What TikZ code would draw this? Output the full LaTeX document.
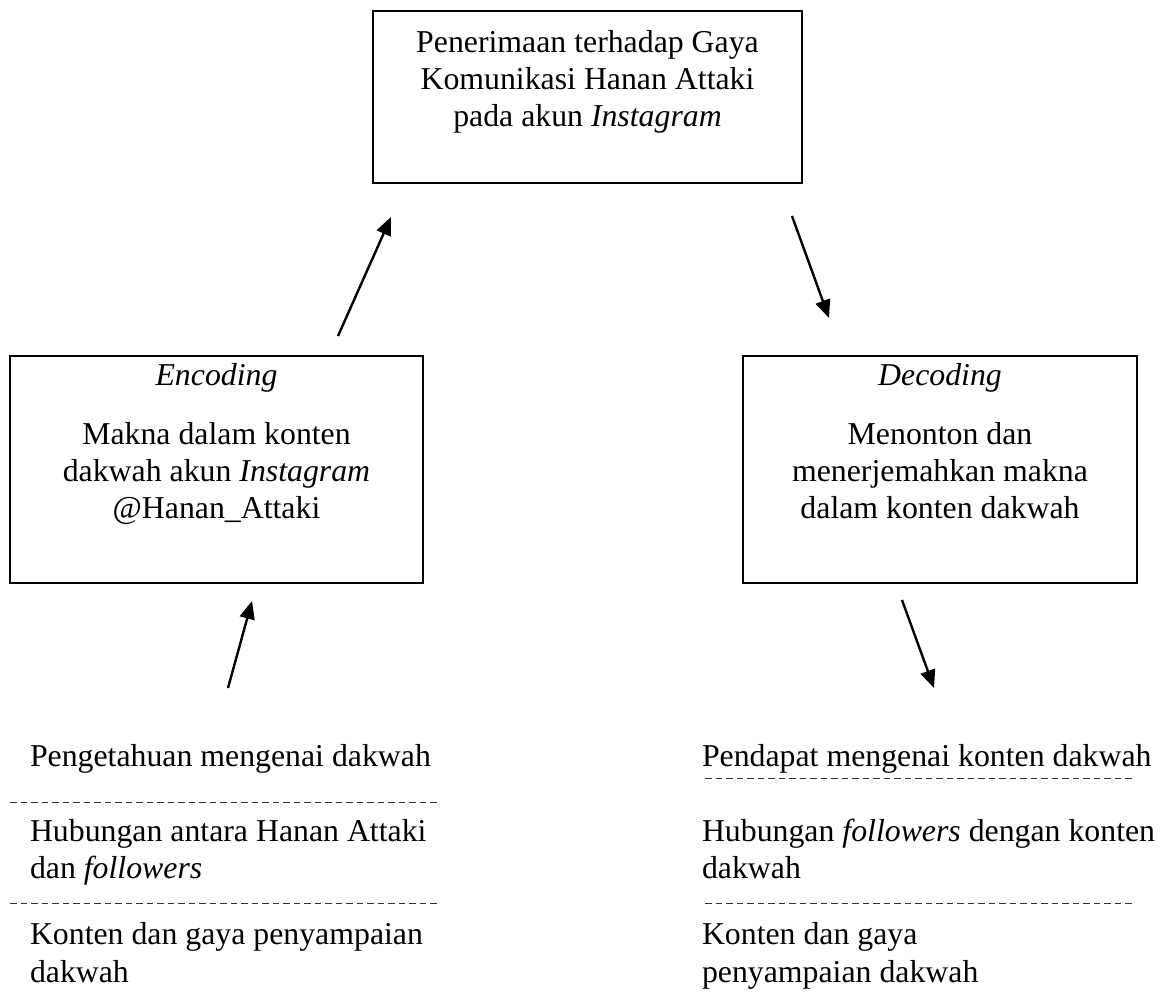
\documentclass[tikz,border=0pt]{standalone}
\usepackage{fontspec}
\setmainfont{Liberation Serif}
\usetikzlibrary{arrows.meta}
\begin{document}
\begin{tikzpicture}[x=1pt,y=-1pt,
  box/.style={draw, line width=2pt, inner sep=0pt, outer sep=0pt},
  txt/.style={font=\fontsize{31.8}{37}\selectfont, inner sep=0pt, outer sep=0pt},
  ctxt/.style={txt, anchor=base},
  ltxt/.style={txt, anchor=base west},
  arr/.style={line width=2.4pt, -{Triangle[length=18pt,width=15pt]}},
  sepline/.style={line width=0.9pt, black!80, dash pattern=on 6.5pt off 4pt}]
\useasboundingbox (0,0) rectangle (1165,993);
% boxes
\node[box, minimum width=429pt, minimum height=172pt] (top) at (587.5,97) {};
\node[box, minimum width=413pt, minimum height=227pt] (enc) at (216.5,469.5) {};
\node[box, minimum width=394pt, minimum height=227pt] (dec) at (940,469.5) {};
% top box text
\node[ctxt] (t1) at (587.5,52) {Penerimaan terhadap Gaya};
\node[ctxt] (t2) at (587.5,89) {Komunikasi Hanan Attaki};
\node[ctxt] (t3) at (587.5,126) {pada akun \textit{Instagram}};
% encoding box text
\node[ctxt] (e0) at (216.5,385) {\textit{Encoding}};
\node[ctxt] (e1) at (216.5,444) {Makna dalam konten};
\node[ctxt] (e2) at (216.5,481) {dakwah akun \textit{Instagram}};
\node[ctxt] (e3) at (216.5,518) {@Hanan\_Attaki};
% decoding box text
\node[ctxt] (d0) at (940,385) {\textit{Decoding}};
\node[ctxt] (d1) at (940,444) {Menonton dan};
\node[ctxt] (d2) at (940,481) {menerjemahkan makna};
\node[ctxt] (d3) at (940,518) {dalam konten dakwah};
% arrows
\coordinate (a1s) at (338,336); \coordinate (a1e) at (391,217);
\coordinate (a2s) at (792,216); \coordinate (a2e) at (829,318);
\coordinate (a3s) at (228,688); \coordinate (a3e) at (252,601);
\coordinate (a4s) at (902,600); \coordinate (a4e) at (934,688);
\draw[arr] (a1s) -- (a1e);
\draw[arr] (a2s) -- (a2e);
\draw[arr] (a3s) -- (a3e);
\draw[arr] (a4s) -- (a4e);
% bottom left list
\node[ltxt] (l1) at (30,766) {Pengetahuan mengenai dakwah};
\node[ltxt] (l2) at (30,841) {Hubungan antara Hanan Attaki};
\node[ltxt] (l3) at (30,878) {dan \textit{followers}};
\node[ltxt] (l4) at (30,944) {Konten dan gaya penyampaian};
\node[ltxt] (l5) at (30,982) {dakwah};
\coordinate (ls1a) at (10,802); \coordinate (ls1b) at (437,802);
\coordinate (ls2a) at (10,903); \coordinate (ls2b) at (437,903);
\draw[sepline] (ls1a) -- (ls1b);
\draw[sepline] (ls2a) -- (ls2b);
% bottom right list
\node[ltxt] (r1) at (702,766) {Pendapat mengenai konten dakwah};
\node[ltxt] (r2) at (702,841) {Hubungan \textit{followers} dengan konten};
\node[ltxt] (r3) at (702,878) {dakwah};
\node[ltxt] (r4) at (702,944) {Konten dan gaya};
\node[ltxt] (r5) at (702,982) {penyampaian dakwah};
\coordinate (rs1a) at (705,778); \coordinate (rs1b) at (1133,778);
\coordinate (rs2a) at (705,903); \coordinate (rs2b) at (1133,903);
\draw[sepline] (rs1a) -- (rs1b);
\draw[sepline] (rs2a) -- (rs2b);
\end{tikzpicture}
\end{document}
